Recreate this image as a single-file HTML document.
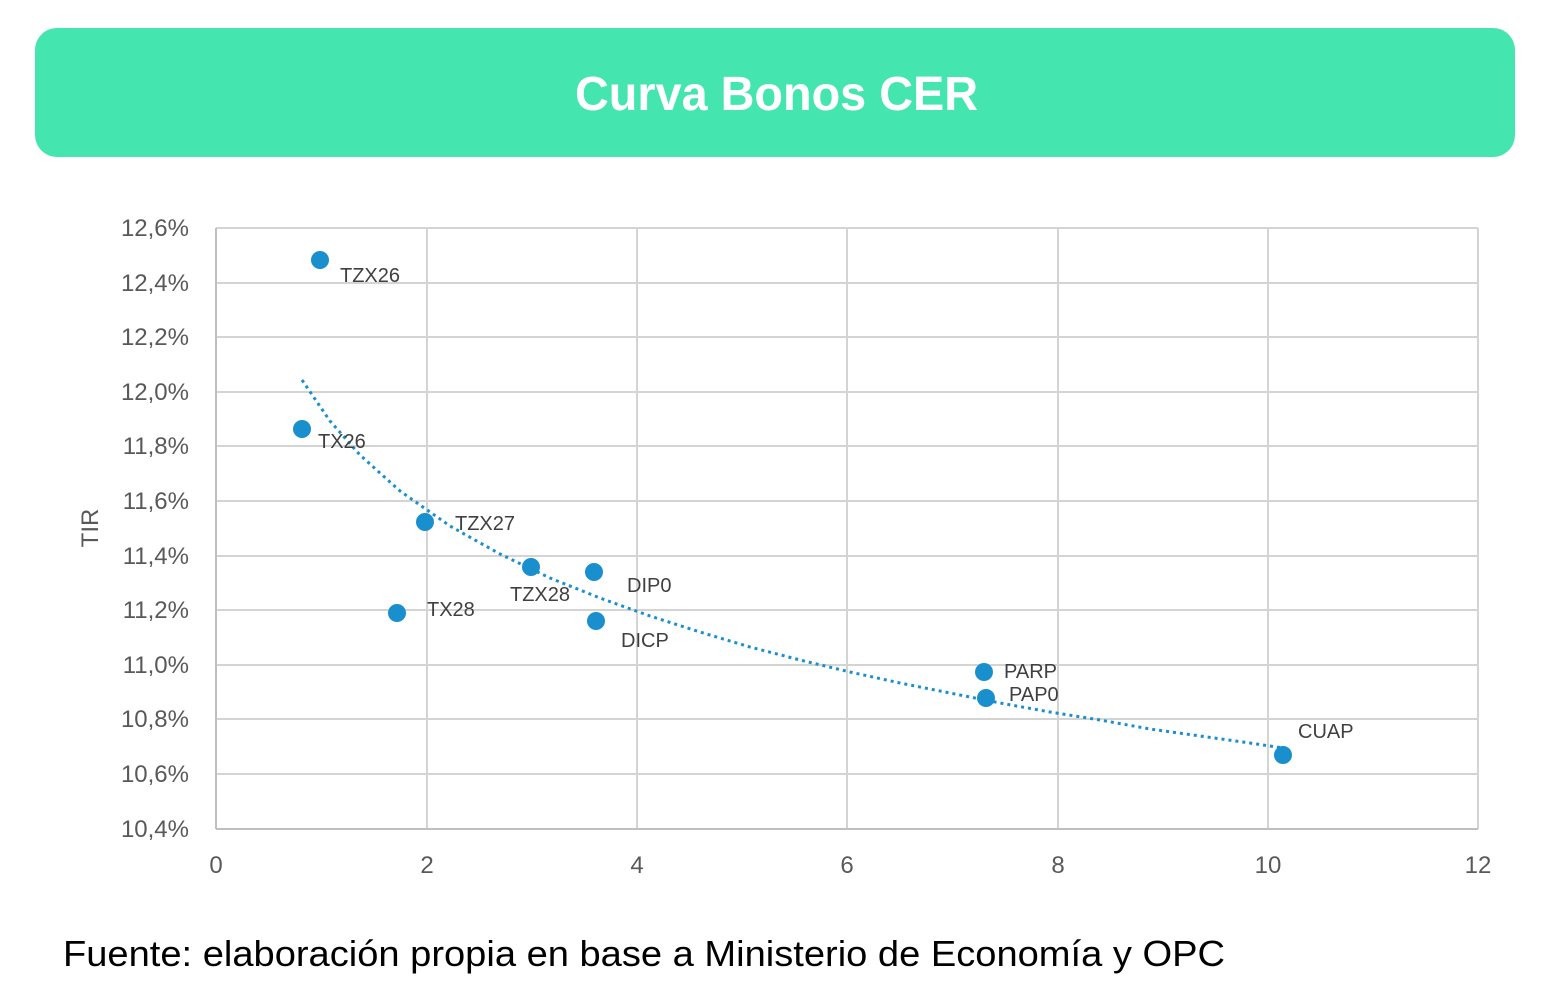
<!DOCTYPE html>
<html><head><meta charset="utf-8"><style>
body{margin:0;width:1564px;height:997px;background:#fff;overflow:hidden;font-family:"Liberation Sans",sans-serif}
</style></head><body>
<svg width="1564" height="997" xmlns="http://www.w3.org/2000/svg" font-family="Liberation Sans, sans-serif">
<rect x="35" y="28" width="1480" height="129" rx="22" fill="#45E5B0"/>
<text x="575" y="110" textLength="403" lengthAdjust="spacingAndGlyphs" font-size="48" font-weight="bold" fill="#fff">Curva Bonos CER</text>
<g stroke="#d4d4d4" stroke-width="2">
<line x1="216" y1="228" x2="1478" y2="228"/>
<line x1="216" y1="283" x2="1478" y2="283"/>
<line x1="216" y1="337" x2="1478" y2="337"/>
<line x1="216" y1="392" x2="1478" y2="392"/>
<line x1="216" y1="446" x2="1478" y2="446"/>
<line x1="216" y1="501" x2="1478" y2="501"/>
<line x1="216" y1="556" x2="1478" y2="556"/>
<line x1="216" y1="610" x2="1478" y2="610"/>
<line x1="216" y1="665" x2="1478" y2="665"/>
<line x1="216" y1="719" x2="1478" y2="719"/>
<line x1="216" y1="774" x2="1478" y2="774"/>
<line x1="427" y1="228" x2="427" y2="829"/>
<line x1="637" y1="228" x2="637" y2="829"/>
<line x1="847" y1="228" x2="847" y2="829"/>
<line x1="1058" y1="228" x2="1058" y2="829"/>
<line x1="1268" y1="228" x2="1268" y2="829"/>
<line x1="1478" y1="228" x2="1478" y2="829"/>
</g>
<g stroke="#bfbfbf" stroke-width="2"><line x1="216" y1="228" x2="216" y2="829"/><line x1="216" y1="829" x2="1478" y2="829"/></g>
<g font-size="24" fill="#595959" text-anchor="end">
<text x="189" y="236">12,6%</text><text x="189" y="291">12,4%</text><text x="189" y="345">12,2%</text><text x="189" y="400">12,0%</text><text x="189" y="454">11,8%</text><text x="189" y="509">11,6%</text><text x="189" y="564">11,4%</text><text x="189" y="618">11,2%</text><text x="189" y="673">11,0%</text><text x="189" y="727">10,8%</text><text x="189" y="782">10,6%</text><text x="189" y="837">10,4%</text>
</g>
<g font-size="24" fill="#595959" text-anchor="middle">
<text x="216" y="873">0</text><text x="427" y="873">2</text><text x="637" y="873">4</text><text x="847" y="873">6</text><text x="1058" y="873">8</text><text x="1268" y="873">10</text><text x="1478" y="873">12</text>
</g>
<text transform="translate(98,528) rotate(-90)" text-anchor="middle" font-size="24" fill="#595959">TIR</text>
<polyline fill="none" stroke="#1a8fce" stroke-width="3" stroke-dasharray="3,4" points="302,380 330,421 360,455 400,491 450,526 500,554 550,578 600,598 650,616 700,632 750,647 800,660 850,672 900,683 950,693 1000,703 1050,712 1100,720 1150,729 1200,736 1250,743 1283,748"/>
<g fill="#1a8fce">
<circle cx="320" cy="260" r="9"/><circle cx="302" cy="429" r="9"/><circle cx="425" cy="522" r="9"/><circle cx="531" cy="567" r="9"/><circle cx="594" cy="572" r="9"/><circle cx="397" cy="613" r="9"/><circle cx="596" cy="621" r="9"/><circle cx="984" cy="672" r="9"/><circle cx="986" cy="698" r="9"/><circle cx="1283" cy="755" r="9"/>
</g>
<g font-size="20" fill="#404040">
<text x="340" y="282">TZX26</text><text x="318" y="448">TX26</text><text x="455" y="530">TZX27</text><text x="510" y="601">TZX28</text><text x="627" y="592">DIP0</text><text x="427" y="616">TX28</text><text x="621" y="647">DICP</text><text x="1004" y="678">PARP</text><text x="1009" y="701">PAP0</text><text x="1298" y="738">CUAP</text>
</g>
<text x="63" y="966" font-size="36" textLength="1162" lengthAdjust="spacingAndGlyphs" fill="#000">Fuente: elaboración propia en base a Ministerio de Economía y OPC</text>
</svg>
</body></html>
